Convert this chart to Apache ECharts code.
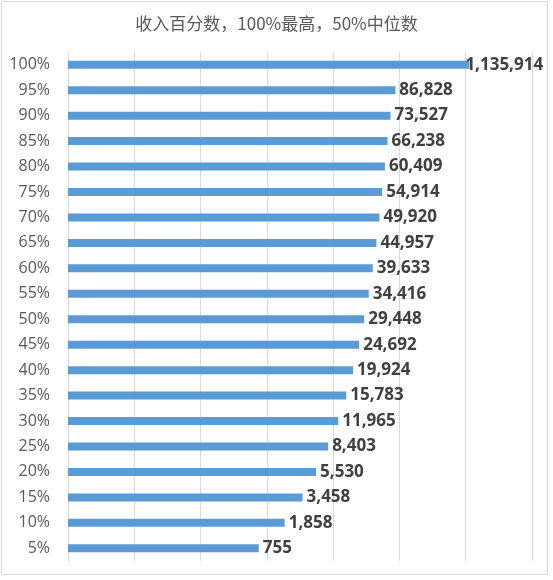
<!DOCTYPE html>
<html>
<head>
    <meta charset="utf-8">
    <title>ECharts</title>
    <script src="https://cdn.jsdelivr.net/npm/echarts@6/dist/echarts.min.js"></script>
    <style>
        html, body { margin: 0; padding: 0; background: #fff; }
    </style>
</head>
<body>
    <div id="main" style="width: 553px;height:580px;"></div>
    <script type="text/javascript">
    // 分位（从下往上）
    var percentiles = ['5%', '10%', '15%', '20%', '25%', '30%', '35%', '40%', '45%', '50%',
                       '55%', '60%', '65%', '70%', '75%', '80%', '85%', '90%', '95%', '100%'];
    // 收入
    var incomes = [755, 1858, 3458, 5530, 8403, 11965, 15783, 19924, 24692, 29448,
                   34416, 39633, 44957, 49920, 54914, 60409, 66238, 73527, 86828, 1135914];

    var titleText = '收入百分数，100%最高，50%中位数';

    function fmt(v) {
        return String(v).replace(/\B(?=(\d{3})+(?!\d))/g, ',');
    }

    // 最大值的标签被推回图表内，和柱子末端略有重叠
    var maxIdx = incomes.indexOf(Math.max.apply(null, incomes));
    var barData = incomes.map(function (v, i) {
        if (i === maxIdx) {
            return { value: v, label: { offset: [-8, 0] } };
        }
        return v;
    });

    var myChart = echarts.init(document.getElementById('main'));

    var option = {
        backgroundColor: '#fff',
        animation: false,
        title: {
            text: titleText,
            left: 'center',
            top: 10,
            textStyle: {
                fontFamily: 'Noto Sans CJK SC',
                fontSize: 17,
                fontWeight: 'normal',
                color: '#595959'
            }
        },
        graphic: [{
            type: 'rect',
            shape: { x: 1.5, y: 1.5, width: 546, height: 573 },
            style: { fill: 'none', stroke: '#d9d9d9', lineWidth: 1 },
            silent: true
        }],
        grid: {
            left: 68,
            right: 21,
            top: 52,
            bottom: 19
        },
        xAxis: {
            type: 'log',
            logBase: 10,
            min: 1,
            max: 10000000,
            splitNumber: 7,
            axisLine: { show: false },
            axisTick: { show: false },
            axisLabel: { show: false },
            splitLine: { show: true, lineStyle: { color: '#d9d9d9', width: 1 } }
        },
        yAxis: {
            type: 'category',
            data: percentiles,
            axisLine: { show: true, lineStyle: { color: '#d9d9d9' } },
            axisTick: { show: false },
            axisLabel: {
                margin: 18,
                fontFamily: 'Open Sans',
                fontSize: 16,
                color: '#595959'
            }
        },
        series: [{
            type: 'bar',
            data: barData,
            barWidth: 8,
            itemStyle: { color: '#5b9bd5' },
            label: {
                show: true,
                position: 'right',
                distance: 4,
                formatter: function (p) { return fmt(p.value); },
                fontFamily: 'Open Sans',
                fontWeight: 'bold',
                fontSize: 17,
                color: '#404040'
            }
        }]
    };

    myChart.setOption(option);
    </script>
</body>
</html>
